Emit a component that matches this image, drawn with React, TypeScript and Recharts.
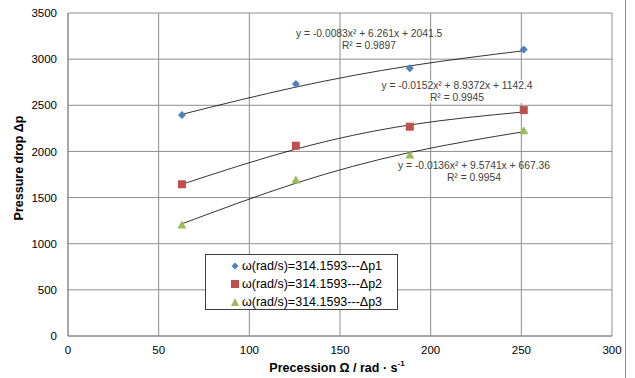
import React from 'react';
import { ComposedChart, Scatter, Line, XAxis, YAxis, CartesianGrid } from 'recharts';

const omega = [62.83, 125.66, 188.5, 251.33];
const dp1 = [2395, 2730, 2900, 3105];
const dp2 = [1644, 2062, 2268, 2448];
const dp3 = [1203, 1690, 1960, 2225];
const fit1 = [2402, 2697, 2927, 3091];
const fit2 = [1644, 2025, 2287, 2428];
const fit3 = [1215, 1656, 1989, 2214];
const xTicks = [0, 50, 100, 150, 200, 250, 300];
const yTicks = [0, 500, 1000, 1500, 2000, 2500, 3000, 3500];
const seriesNames = ['ω(rad/s)=314.1593---Δp1', 'ω(rad/s)=314.1593---Δp2', 'ω(rad/s)=314.1593---Δp3'];
const equations = [
  ['y = -0.0083x² + 6.261x + 2041.5', 'R² = 0.9897'],
  ['y = -0.0152x² + 8.9372x + 1142.4', 'R² = 0.9945'],
  ['y = -0.0136x² + 9.5741x + 667.36', 'R² = 0.9954'],
];

const toPts = (ys: number[]) => omega.map((x, i) => ({ x, y: ys[i] }));
const COLORS = ['#4F81BD', '#C0504D', '#9BBB59'];
const FONT = '"Liberation Sans", Arial, sans-serif';

const markerShape = (kind: number, color: string) => (props: any) => {
  const { cx, cy } = props;
  if (cx == null || cy == null) return <g />;
  if (kind === 0) {
    const r = 4;
    return <polygon points={`${cx},${cy - r} ${cx + r},${cy} ${cx},${cy + r} ${cx - r},${cy}`} fill={color} />;
  }
  if (kind === 1) return <rect x={cx - 4} y={cy - 4} width={8} height={8} fill={color} />;
  return <polygon points={`${cx},${cy - 4.5} ${cx + 4.5},${cy + 3.5} ${cx - 4.5},${cy + 3.5}`} fill={color} />;
};

const Marker = ({ kind, color }: { kind: number; color: string }) => {
  if (kind === 0) return <svg width="8" height="8"><polygon points="4,0.5 7.5,4 4,7.5 0.5,4" fill={color} /></svg>;
  if (kind === 1) return <svg width="8" height="8"><rect x="0" y="0" width="8" height="8" fill={color} /></svg>;
  return <svg width="8" height="8"><polygon points="4,0 8,8 0,8" fill={color} /></svg>;
};

const eqPos = [
  { left: 296, top: 28, width: 146 },
  { left: 379, top: 80, width: 156 },
  { left: 396, top: 160, width: 156 },
];

export default function App() {
  return (
    <div style={{ position: 'absolute', left: 0, top: 0, width: 635, height: 378, background: '#fff', fontFamily: FONT }}>
      <ComposedChart width={635} height={378} margin={{ top: 13, right: 23, bottom: 12, left: 0 }}>
        <CartesianGrid stroke="#8e8e8e" strokeWidth={1} />
        <XAxis
          type="number"
          dataKey="x"
          domain={[0, 300]}
          ticks={xTicks}
          height={30}
          tickLine={false}
          tickSize={0}
          tickMargin={10}
          stroke="#868686"
          tick={{ fill: '#000', fontSize: 11.5, fontFamily: FONT }}
          allowDataOverflow
        />
        <YAxis
          type="number"
          dataKey="y"
          domain={[0, 3500]}
          ticks={yTicks}
          width={68}
          tickLine={false}
          tickSize={0}
          tickMargin={11}
          stroke="#868686"
          tick={{ fill: '#000', fontSize: 11.5, fontFamily: FONT }}
        />
        {[fit1, fit2, fit3].map((f, i) => (
          <Line key={'f' + i} data={toPts(f)} dataKey="y" type="natural" stroke="#000" strokeWidth={0.8} dot={false} activeDot={false} isAnimationActive={false} legendType="none" />
        ))}
        {[dp1, dp2, dp3].map((d, i) => (
          <Scatter key={'s' + i} name={seriesNames[i]} data={toPts(d)} dataKey="y" fill={COLORS[i]} shape={markerShape(i, COLORS[i])} isAnimationActive={false} />
        ))}
      </ComposedChart>

      {equations.map((eq, i) => (
        <div key={'e' + i} style={{ position: 'absolute', left: eqPos[i].left, top: eqPos[i].top, width: eqPos[i].width, background: i === 1 ? '#fff' : 'transparent', color: '#404040', fontSize: 10.3, lineHeight: '11.5px', textAlign: 'center', whiteSpace: 'nowrap' }}>
          <div>{eq[0]}</div>
          <div>{eq[1]}</div>
        </div>
      ))}

      <div style={{ position: 'absolute', left: 205, top: 254, width: 191, height: 54, border: '1px solid #404040', background: '#fff', fontSize: 12.5, color: '#000' }}>
        {seriesNames.map((n, i) => (
          <div key={n} style={{ position: 'absolute', left: 25, top: 3 + i * 18, height: 16, display: 'flex', alignItems: 'center', whiteSpace: 'nowrap' }}>
            <Marker kind={i} color={COLORS[i]} />
            <span style={{ marginLeft: 3 }}>{n}</span>
          </div>
        ))}
      </div>

      <div style={{ position: 'absolute', left: 19, top: 168, transform: 'translate(-50%, -50%) rotate(-90deg)', fontWeight: 'bold', fontSize: 12.5, whiteSpace: 'nowrap' }}>
        Pressure drop Δp
      </div>
      <div style={{ position: 'absolute', left: 337, top: 367, transform: 'translate(-50%, -50%)', fontWeight: 'bold', fontSize: 12.5, whiteSpace: 'nowrap' }}>
        Precession Ω / rad · s<sup style={{ fontSize: 8 }}>-1</sup>
      </div>
      <div style={{ position: 'absolute', left: 625, top: 0, width: 1, height: 378, background: '#8a8a8a' }} />
    </div>
  );
}
